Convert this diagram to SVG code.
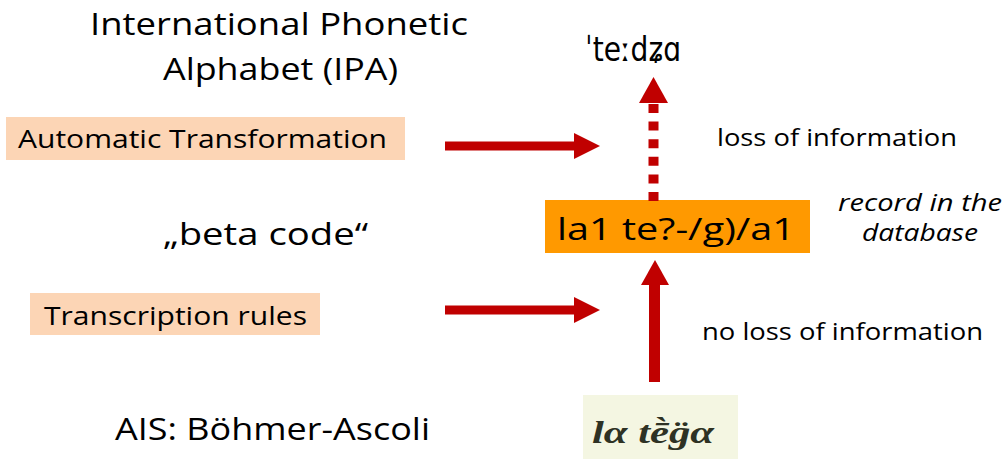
<svg xmlns="http://www.w3.org/2000/svg" width="1006" height="459" viewBox="0 0 1006 459">
<defs>
<style>
.t{font-family:"Open Sans","DejaVu Sans",sans-serif;fill:#000;}
.box{fill:#fcd5b5;}
.red{fill:#c00000;}
.shaft{stroke:#c00000;stroke-width:9;fill:none;}
</style>
</defs>
<rect width="1006" height="459" fill="#ffffff"/>
<g id="ipa-title">
<text class="t" x="90" y="35" font-size="31" textLength="378" lengthAdjust="spacingAndGlyphs">International Phonetic</text>
<text class="t" x="163" y="80" font-size="31" textLength="235" lengthAdjust="spacingAndGlyphs">Alphabet (IPA)</text>
</g>
<g id="ipa-form">
<text x="585" y="61" font-family="'DejaVu Sans',sans-serif" font-size="34" textLength="96" lengthAdjust="spacingAndGlyphs">ˈteːdʑɑ</text>
</g>
<g id="auto-transformation">
<rect class="box" x="6" y="117" width="399" height="43"/>
<text class="t" x="18" y="148" font-size="25" textLength="369" lengthAdjust="spacingAndGlyphs">Automatic Transformation</text>
</g>
<g id="loss-label">
<text class="t" x="717" y="146" font-size="24" textLength="240" lengthAdjust="spacingAndGlyphs">loss of information</text>
</g>
<g id="beta-code-label">
<text class="t" x="163" y="245" font-size="31" textLength="205" lengthAdjust="spacingAndGlyphs">„beta code“</text>
</g>
<g id="record">
<rect x="545" y="200" width="265" height="53" fill="#ff9900"/>
<text class="t" x="557" y="240" font-size="31" textLength="238" lengthAdjust="spacingAndGlyphs">la1 te?-/g)/a1</text>
</g>
<g id="record-label">
<text class="t" x="838" y="211" font-size="23" font-style="italic" textLength="164" lengthAdjust="spacingAndGlyphs">record in the</text>
<text class="t" x="862" y="241" font-size="23" font-style="italic" textLength="116" lengthAdjust="spacingAndGlyphs">database</text>
</g>
<g id="transcription-rules">
<rect class="box" x="30" y="293" width="290" height="42"/>
<text class="t" x="44" y="325" font-size="25" textLength="263" lengthAdjust="spacingAndGlyphs">Transcription rules</text>
</g>
<g id="no-loss-label">
<text class="t" x="702" y="340" font-size="24" textLength="281" lengthAdjust="spacingAndGlyphs">no loss of information</text>
</g>
<g id="ais-label">
<text class="t" x="115" y="440" font-size="31" textLength="315" lengthAdjust="spacingAndGlyphs">AIS: Böhmer-Ascoli</text>
</g>
<g id="ais-scan">
<rect x="583" y="395" width="155" height="64" fill="#f4f6e2"/>
<text x="592" y="443" font-family="'Liberation Serif',serif" font-style="italic" font-weight="bold" font-size="32" fill="#2e3224" textLength="122" lengthAdjust="spacingAndGlyphs">lα tḕg̈α</text>
</g>
<g id="connectors">
<line class="shaft" x1="445" y1="146" x2="578" y2="146"/>
<polygon class="red" points="574,133 600,146 574,159"/>
<line class="shaft" x1="445" y1="310" x2="578" y2="310"/>
<polygon class="red" points="574,297 600,310 574,323"/>
<line x1="653.5" y1="104" x2="653.5" y2="201" stroke="#c00000" stroke-width="10" stroke-dasharray="9 8.6"/>
<polygon class="red" points="639,103 653.5,77 668,103"/>
<rect class="red" x="649" y="284" width="11" height="98"/>
<polygon class="red" points="641,285 655,260 669,285"/>
</g>
</svg>
